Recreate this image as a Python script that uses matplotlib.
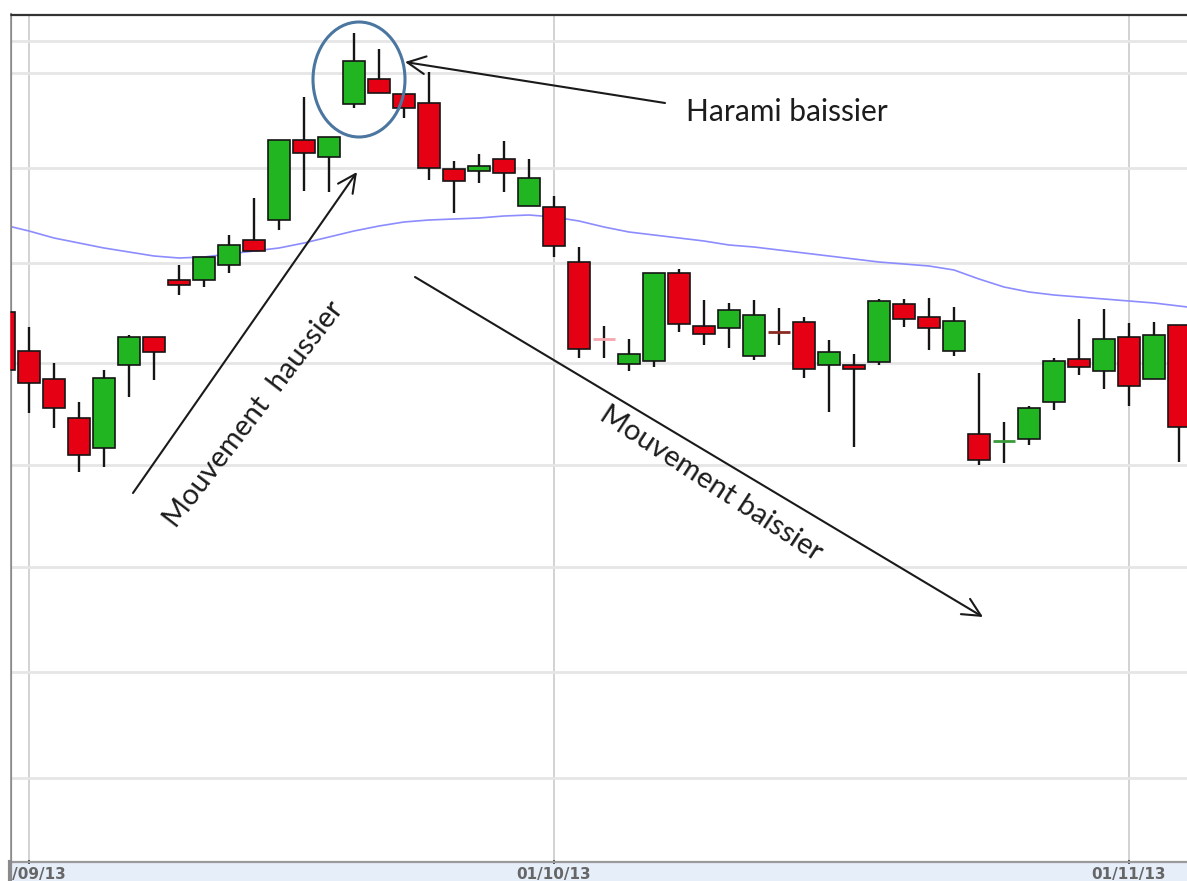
import matplotlib.pyplot as plt
from matplotlib.patches import Ellipse, Rectangle
from matplotlib.lines import Line2D

# candle index (trading days from 30/08/13), open / high / low / close
days = list(range(-1, 47))
opens = [58.8, 54.9, 52.1, 48.2, 45.2, 53.5, 56.3, 62.0, 62.0, 63.5, 66.0, 68.0,
         76.0, 74.3, 79.6, 82.1, 80.6, 79.7, 73.1, 72.9, 74.1, 69.4, 69.3, 63.8,
         56.1, 53.6, 53.9, 62.7, 57.4, 57.2, 54.4, 56.8, 57.8, 53.5, 53.5, 53.8,
         59.6, 58.3, 54.9, 46.6, 45.9, 46.1, 49.8, 54.1, 52.9, 56.3, 52.1, 57.5]
highs = [59.5, 57.3, 53.7, 49.8, 53.0, 56.5, 56.3, 63.5, 64.3, 66.5, 70.2, 76.0,
         80.3, 76.3, 86.7, 85.1, 80.6, 82.8, 73.9, 74.6, 75.9, 74.1, 70.4, 65.3,
         57.4, 56.1, 62.7, 63.1, 60.0, 59.7, 60.0, 59.2, 58.3, 56.0, 54.6, 60.1,
         60.1, 60.2, 59.3, 52.7, 47.8, 49.4, 54.2, 58.1, 59.1, 57.7, 57.8, 57.5]
lows = [52.5, 48.7, 47.2, 42.8, 43.3, 50.3, 52.0, 60.5, 61.3, 62.7, 64.9, 67.0,
        70.9, 70.8, 79.2, 80.7, 78.2, 72.0, 68.7, 71.7, 70.8, 69.4, 64.3, 54.2,
        54.2, 52.9, 53.3, 56.8, 55.5, 55.2, 54.0, 55.5, 52.2, 48.8, 45.3, 53.5,
        57.3, 55.0, 54.4, 43.5, 43.7, 45.5, 49.0, 52.5, 51.1, 49.4, 52.1, 43.8]
closes = [53.0, 51.7, 49.2, 44.5, 52.2, 56.3, 54.8, 61.5, 64.3, 65.5, 64.9, 76.0,
          74.7, 76.3, 83.9, 80.7, 79.2, 73.2, 71.9, 73.4, 72.7, 72.2, 65.4, 55.1,
          56.1, 54.6, 62.7, 57.6, 56.6, 59.0, 58.5, 56.8, 53.1, 54.8, 53.1, 59.9,
          58.1, 57.2, 57.9, 44.0, 45.9, 49.2, 53.9, 53.3, 56.1, 51.4, 56.5, 47.3]

# moving average, one value per day (plus one past the right edge)
ma_days = list(range(-1, 48))
ma_values = [67.5, 66.9, 66.2, 65.7, 65.2, 64.8, 64.4, 64.2, 64.3, 64.6, 64.9, 65.2,
             65.7, 66.3, 66.9, 67.4, 67.8, 68.0, 68.1, 68.2, 68.4, 68.5, 68.3, 67.9,
             67.3, 66.8, 66.5, 66.2, 65.9, 65.5, 65.3, 65.0, 64.7, 64.4, 64.1, 63.8,
             63.6, 63.4, 63.0, 62.1, 61.3, 60.8, 60.5, 60.3, 60.1, 59.9, 59.7, 59.4, 59.1]

grid_levels = [85.9, 82.7, 73.2, 63.7, 53.7, 43.5, 33.3, 22.8, 12.2]
date_ticks = [0, 21, 44]
date_labels = ['01/09/13', '01/10/13', '01/11/13']

# dojis drawn as a coloured dash
doji_colors = {23: '#f5a6ae', 30: '#8a2a22', 39: '#3a9a3a'}

RED = '#e60013'
GREEN = '#22b522'

W, H = 1187, 881
fig = plt.figure(figsize=(W / 100, H / 100), dpi=100)
ax = fig.add_axes([10 / W, 19 / H, 1 - 10 / W, (862 - 15) / H])

# bottom date strip, behind the axes
fig.patches.append(Rectangle((10 / W, 0), 1, 19 / H, transform=fig.transFigure,
                             color='#e6eefa', zorder=-5))

ax.set_xlim(-0.76, 46.32)
ax.set_ylim(3.8, 88.5)

ax.set_yticks(grid_levels)
ax.set_xticks(date_ticks)
ax.set_xticklabels(date_labels, fontsize=11, fontweight='bold', color='#666666',
                   family='DejaVu Sans')
ax.tick_params(axis='y', left=False, labelleft=False)
ax.tick_params(axis='x', length=3, width=1.2, direction='inout', color='#333', pad=2)
ax.grid(axis='y', color='#e6e6e6', lw=2)
ax.grid(axis='x', color='#d2d2d2', lw=1.4)
ax.set_axisbelow(True)

ax.spines['right'].set_visible(False)
ax.spines['top'].set_color('#333333')
ax.spines['top'].set_linewidth(1.6)
ax.spines['left'].set_color('#8a8a8a')
ax.spines['left'].set_linewidth(3)
ax.spines['bottom'].set_color('#9a9a9a')
ax.spines['bottom'].set_linewidth(1.6)

# moving average
ax.plot(ma_days, ma_values, color='#8c8cff', lw=1.2, zorder=1.5)

# candles
ax.vlines(days, lows, highs, color='#151515', lw=1.7, zorder=2)
for d, o, c in zip(days, opens, closes):
    if o == c:
        ax.hlines(o, d - 0.44, d + 0.44, colors=doji_colors.get(d, '#333'), lw=2, zorder=3)
        continue
    ax.bar(d, abs(c - o), bottom=min(o, c), width=0.88,
           color=GREEN if c > o else RED, edgecolor='#151515', linewidth=1.2, zorder=3)

# harami circle
ax.add_patch(Ellipse((13.2, 82.05), 3.68, 11.5, fill=False, edgecolor='#4a76a0',
                     lw=2.2, zorder=4))

font = 'Lato'
arrow = dict(arrowstyle='->,head_length=0.65,head_width=0.32', color='#1a1a1a',
             lw=1.5, mutation_scale=20, shrinkA=0, shrinkB=0)

ax.annotate('', xy=(15.04, 83.8), xytext=(25.44, 79.7), arrowprops=arrow, zorder=5)
ax.text(26.28, 78.8, 'Harami baissier', fontsize=21.5, family=font, color='#1c1c1c',
        ha='left', va='center')

ax.annotate('', xy=(13.12, 72.8), xytext=(4.16, 40.7), arrowprops=arrow, zorder=5)
ax.text(9.0, 48.6, 'Mouvement  haussier', fontsize=21, family=font, color='#1c1c1c',
        rotation=52.5, rotation_mode='anchor', ha='center', va='center')

ax.annotate('', xy=(38.16, 28.3), xytext=(15.44, 62.3), arrowprops=arrow, zorder=5)
ax.text(27.3, 41.6, 'Mouvement baissier', fontsize=21, family=font, color='#1c1c1c',
        rotation=-33.3, rotation_mode='anchor', ha='center', va='center')

# white margin left of the frame, frame continues through the date strip
fig.patches.append(Rectangle((0, 0), 8.5 / W, 1, transform=fig.transFigure,
                             color='white', zorder=10))
fig.lines.append(Line2D([10 / W, 10 / W], [0, 19 / H], transform=fig.transFigure,
                        color='#8a8a8a', lw=3, zorder=11))

fig.savefig('out.png', dpi=100)
